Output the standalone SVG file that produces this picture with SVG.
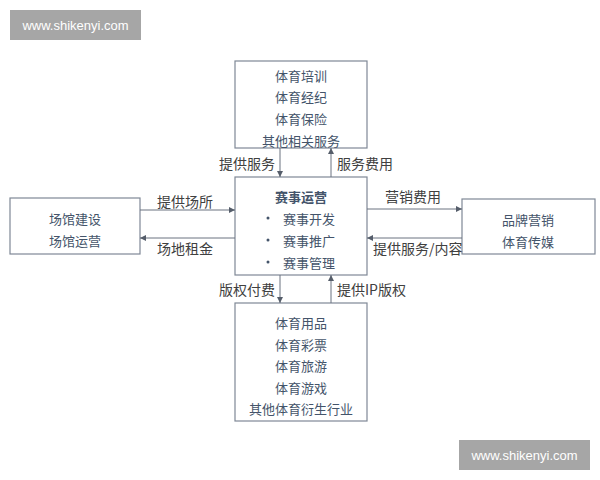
<svg xmlns="http://www.w3.org/2000/svg" width="600" height="480" viewBox="0 0 600 480">
<style>
.box{fill:#fff;stroke:#7f8896;stroke-width:1.2}
.bt{font-family:"Noto Sans CJK SC","Liberation Sans",sans-serif;font-size:13px;fill:#44546a;text-anchor:middle;dominant-baseline:central}
.lb{font-family:"Noto Sans CJK SC","Liberation Sans",sans-serif;font-size:14px;fill:#404040;dominant-baseline:central}
.wm{fill:#a6a6a6}
.wt{font-family:"Liberation Sans",Arial,sans-serif;font-size:13px;fill:#fff;text-anchor:middle;dominant-baseline:central}
.cn{stroke:#6b7280;stroke-width:1;fill:none;marker-end:url(#ah)}
</style>
<defs>
<marker id="ah" viewBox="0 0 8 8" refX="8" refY="4" markerWidth="6" markerHeight="6" markerUnits="userSpaceOnUse" orient="auto">
<path d="M0,0 L8,4 L0,8 z" fill="#555d6a"/>
</marker>
</defs>
<rect class="wm" x="10" y="10" width="131" height="30"/>
<text class="wt" x="75.5" y="25">www.shikenyi.com</text>
<rect class="wm" x="459" y="440" width="131" height="30"/>
<text class="wt" x="524.5" y="455">www.shikenyi.com</text>

<g id="top">
<rect class="box" x="235" y="61" width="132" height="87"/>
<text class="bt" x="301" y="75">体育培训</text>
<text class="bt" x="301" y="96">体育经纪</text>
<text class="bt" x="301" y="118">体育保险</text>
<text class="bt" x="301" y="140">其他相关服务</text>
</g>
<g id="center">
<rect class="box" x="235" y="177" width="132" height="98"/>
<text class="bt" x="301" y="196" font-weight="bold">赛事运营</text>
<circle cx="268" cy="218" r="1.5" fill="#44546a"/>
<circle cx="268" cy="240" r="1.5" fill="#44546a"/>
<circle cx="268" cy="262" r="1.5" fill="#44546a"/>
<text class="bt" x="309" y="218">赛事开发</text>
<text class="bt" x="309" y="240">赛事推广</text>
<text class="bt" x="309" y="262">赛事管理</text>
</g>
<g id="bottom">
<rect class="box" x="235" y="303" width="132" height="118"/>
<text class="bt" x="301" y="322">体育用品</text>
<text class="bt" x="301" y="344">体育彩票</text>
<text class="bt" x="301" y="365">体育旅游</text>
<text class="bt" x="301" y="387">体育游戏</text>
<text class="bt" x="301" y="408">其他体育衍生行业</text>
</g>
<g id="left">
<rect class="box" x="10" y="198" width="130" height="56"/>
<text class="bt" x="75" y="218">场馆建设</text>
<text class="bt" x="75" y="240">场馆运营</text>
</g>
<g id="right">
<rect class="box" x="462" y="199" width="133" height="55"/>
<text class="bt" x="528" y="219">品牌营销</text>
<text class="bt" x="528" y="241">体育传媒</text>
</g>

<g id="connectors">
<line class="cn" x1="280" y1="148" x2="280" y2="177"/>
<line class="cn" x1="331" y1="177" x2="331" y2="148"/>
<line class="cn" x1="280" y1="275" x2="280" y2="303"/>
<line class="cn" x1="331" y1="303" x2="331" y2="275"/>
<line class="cn" x1="140" y1="210" x2="235" y2="210"/>
<line class="cn" x1="235" y1="238" x2="140" y2="238"/>
<line class="cn" x1="367" y1="209" x2="462" y2="209"/>
<line class="cn" x1="462" y1="238" x2="367" y2="238"/>
<text class="lb" x="219" y="163">提供服务</text>
<text class="lb" x="337" y="163">服务费用</text>
<text class="lb" x="157" y="201">提供场所</text>
<text class="lb" x="157" y="248">场地租金</text>
<text class="lb" x="385" y="196">营销费用</text>
<text class="lb" x="373" y="248">提供服务/内容</text>
<text class="lb" x="219" y="289">版权付费</text>
<text class="lb" x="337" y="289">提供IP版权</text>
</g>
</svg>
